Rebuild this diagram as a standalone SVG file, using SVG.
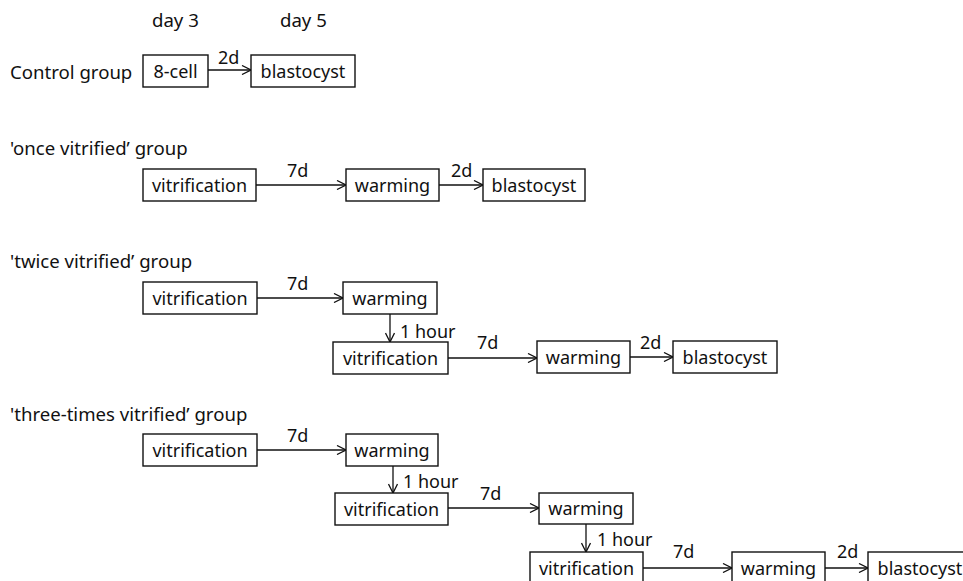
<svg xmlns="http://www.w3.org/2000/svg" width="963" height="581" viewBox="0 0 963 581">
<style>
text{font-family:"Noto Sans","Open Sans",sans-serif;font-size:18px;fill:#111}
.h{font-size:18.6px}
.box{fill:#fff;stroke:#111;stroke-width:1.4}
.c{text-anchor:middle}
.ln{fill:none;stroke:#111;stroke-width:1.3}
</style>
<defs>
<marker id="ah" viewBox="0 0 10 10" refX="10" refY="5" markerWidth="10" markerHeight="10" markerUnits="userSpaceOnUse" orient="auto">
<path d="M1,0.5 L10,5 L1,9.5" fill="none" stroke="#111" stroke-width="1.3"/>
</marker>
</defs>
<rect width="963" height="581" fill="#fff"/>
<g id="labels">
<text class="h" x="152" y="27">day 3</text>
<text class="h" x="280" y="27">day 5</text>
<text class="h" x="10" y="79">Control group</text>
<text class="h" x="10" y="155">'once vitrified’ group</text>
<text class="h" x="10" y="268">'twice vitrified’ group</text>
<text class="h" x="10" y="421">'three-times vitrified’ group</text>
</g>
<g id="connectors">
<line class="ln" x1="208" y1="70" x2="251" y2="70" marker-end="url(#ah)"/>
<text x="218" y="64">2d</text>
<line class="ln" x1="256" y1="185" x2="346" y2="185" marker-end="url(#ah)"/>
<text x="287" y="177">7d</text>
<line class="ln" x1="439" y1="185" x2="483" y2="185" marker-end="url(#ah)"/>
<text x="451" y="177">2d</text>
<line class="ln" x1="257" y1="298" x2="343" y2="298" marker-end="url(#ah)"/>
<text x="287" y="290">7d</text>
<line class="ln" x1="390" y1="314" x2="390" y2="342" marker-end="url(#ah)"/>
<text x="400" y="338">1 hour</text>
<line class="ln" x1="448" y1="358" x2="537" y2="358" marker-end="url(#ah)"/>
<text x="477" y="349">7d</text>
<line class="ln" x1="630" y1="357" x2="673" y2="357" marker-end="url(#ah)"/>
<text x="640" y="349">2d</text>
<line class="ln" x1="257" y1="450" x2="346" y2="450" marker-end="url(#ah)"/>
<text x="287" y="442">7d</text>
<line class="ln" x1="393" y1="466" x2="393" y2="493" marker-end="url(#ah)"/>
<text x="403" y="488">1 hour</text>
<line class="ln" x1="448" y1="508" x2="539" y2="508" marker-end="url(#ah)"/>
<text x="480" y="500">7d</text>
<line class="ln" x1="586" y1="524" x2="586" y2="552" marker-end="url(#ah)"/>
<text x="597" y="546">1 hour</text>
<line class="ln" x1="643" y1="568" x2="732" y2="568" marker-end="url(#ah)"/>
<text x="673" y="558">7d</text>
<line class="ln" x1="825" y1="568" x2="868" y2="568" marker-end="url(#ah)"/>
<text x="837" y="558">2d</text>
</g>
<g id="c-8cell"><rect class="box" x="143" y="55" width="65" height="32"/><text class="c" x="175.5" y="78">8-cell</text></g>
<g id="c-blast"><rect class="box" x="251" y="55" width="104" height="32"/><text class="c" x="303" y="78">blastocyst</text></g>
<g id="o-vit"><rect class="box" x="143" y="169" width="113" height="32"/><text class="c" x="199.5" y="192">vitrification</text></g>
<g id="o-warm"><rect class="box" x="346" y="169" width="93" height="32"/><text class="c" x="392.5" y="192">warming</text></g>
<g id="o-blast"><rect class="box" x="483" y="169" width="102" height="32"/><text class="c" x="534" y="192">blastocyst</text></g>
<g id="t-vit1"><rect class="box" x="143" y="282" width="114" height="32"/><text class="c" x="200" y="305">vitrification</text></g>
<g id="t-warm1"><rect class="box" x="343" y="282" width="94" height="32"/><text class="c" x="390" y="305">warming</text></g>
<g id="t-vit2"><rect class="box" x="333" y="342" width="115" height="32"/><text class="c" x="390.5" y="365">vitrification</text></g>
<g id="t-warm2"><rect class="box" x="537" y="341" width="93" height="32"/><text class="c" x="583.5" y="364">warming</text></g>
<g id="t-blast"><rect class="box" x="673" y="341" width="104" height="32"/><text class="c" x="725" y="364">blastocyst</text></g>
<g id="h-vit1"><rect class="box" x="143" y="434" width="114" height="32"/><text class="c" x="200" y="457">vitrification</text></g>
<g id="h-warm1"><rect class="box" x="346" y="434" width="92" height="32"/><text class="c" x="392" y="457">warming</text></g>
<g id="h-vit2"><rect class="box" x="335" y="493" width="113" height="32"/><text class="c" x="391.5" y="516">vitrification</text></g>
<g id="h-warm2"><rect class="box" x="539" y="493" width="94" height="31"/><text class="c" x="586" y="515">warming</text></g>
<g id="h-vit3"><rect class="box" x="530" y="552" width="113" height="32"/><text class="c" x="586.5" y="575">vitrification</text></g>
<g id="h-warm3"><rect class="box" x="732" y="552" width="93" height="32"/><text class="c" x="778.5" y="575">warming</text></g>
<g id="h-blast"><rect class="box" x="868" y="552" width="104" height="32"/><text class="c" x="920" y="575">blastocyst</text></g>
</svg>
